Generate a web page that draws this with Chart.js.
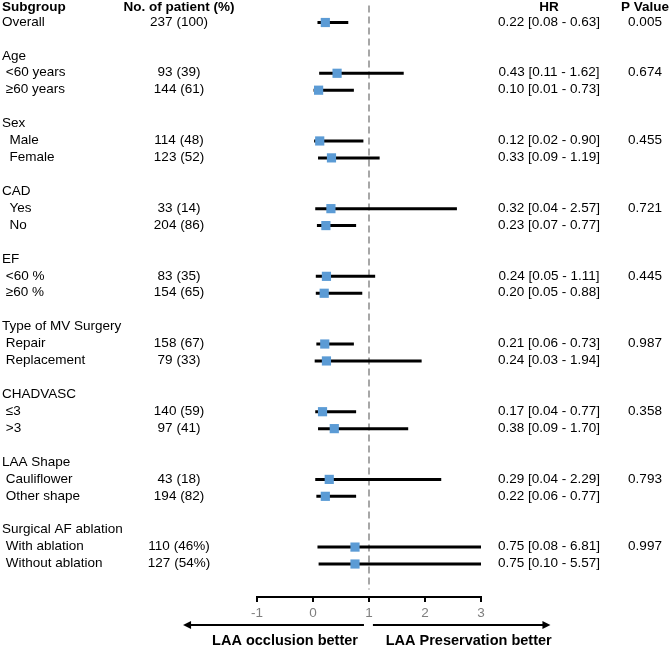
<!DOCTYPE html>
<html>
<head>
<meta charset="utf-8">
<script src="https://cdn.jsdelivr.net/npm/chart.js@4/dist/chart.umd.min.js"></script>
<style>
  html, body { margin: 0; padding: 0; background: #fff; }
  #wrap { width: 669px; height: 648px; position: relative; }
</style>
</head>
<body>
<div id="wrap"><canvas id="forest"></canvas></div>
<script>
// one entry per row, null for group headers / blank rows
const subgroups = ['Overall', '', 'Age', ' <60 years', ' ≥60 years', '', 'Sex', '  Male', '  Female', '',
    'CAD', '  Yes', '  No', '', 'EF', ' <60 %', ' ≥60 %', '', 'Type of MV Surgery', ' Repair', ' Replacement', '',
    'CHADVASC', ' ≤3', ' >3', '', 'LAA Shape', ' Cauliflower', ' Other shape', '',
    'Surgical AF ablation', ' With ablation', ' Without ablation'];
const patients = ['237 (100)', null, null, '93 (39)', '144 (61)', null, null, '114 (48)', '123 (52)', null,
    null, '33 (14)', '204 (86)', null, null, '83 (35)', '154 (65)', null, null, '158 (67)', '79 (33)', null,
    null, '140 (59)', '97 (41)', null, null, '43 (18)', '194 (82)', null,
    null, '110 (46%)', '127 (54%)'];
const hr = [0.22, null, null, 0.43, 0.10, null, null, 0.12, 0.33, null,
    null, 0.32, 0.23, null, null, 0.24, 0.20, null, null, 0.21, 0.24, null,
    null, 0.17, 0.38, null, null, 0.29, 0.22, null, null, 0.75, 0.75];
const ciLow = [0.08, null, null, 0.11, 0.01, null, null, 0.02, 0.09, null,
    null, 0.04, 0.07, null, null, 0.05, 0.05, null, null, 0.06, 0.03, null,
    null, 0.04, 0.09, null, null, 0.04, 0.06, null, null, 0.08, 0.10];
const ciHigh = [0.63, null, null, 1.62, 0.73, null, null, 0.90, 1.19, null,
    null, 2.57, 0.77, null, null, 1.11, 0.88, null, null, 0.73, 1.94, null,
    null, 0.77, 1.70, null, null, 2.29, 0.77, null, null, 6.81, 5.57];
const pValues = ['0.005', null, null, '0.674', null, null, null, '0.455', null, null,
    null, '0.721', null, null, null, '0.445', null, null, null, '0.987', null, null,
    null, '0.358', null, null, null, '0.793', null, null, null, '0.997', null];
const headers = ['Subgroup', 'No. of patient (%)', 'HR', 'P Value'];
const xTicks = [-1, 0, 1, 2, 3];
const arrowLabels = ['LAA occlusion better', 'LAA Preservation better'];

const FONT = '"Liberation Sans", Arial, sans-serif';

// build datasets
const squares = [];
const ciLines = [];
hr.forEach((v, i) => {
    if (v === null) return;
    squares.push({ x: v, y: i });
    ciLines.push({ x: ciLow[i], y: i }, { x: ciHigh[i], y: i }, { x: null, y: null });
});

const tablePlugin = {
    id: 'tableText',
    afterDraw(chart) {
        const ctx = chart.ctx;
        const x = chart.scales.x;
        const y = chart.scales.y;
        ctx.save();
        ctx.fillStyle = '#000';
        ctx.textBaseline = 'middle';

        // header row
        const hy = y.getPixelForValue(-1) + 1.5;
        ctx.font = 'bold 13.5px ' + FONT;
        ctx.textAlign = 'left';
        ctx.fillText(headers[0], 2, hy);
        ctx.textAlign = 'center';
        ctx.fillText(headers[1], 179, hy);
        ctx.fillText(headers[2], 549, hy);
        ctx.fillText(headers[3], 645, hy);

        ctx.font = '13.5px ' + FONT;
        subgroups.forEach((label, i) => {
            const py = y.getPixelForValue(i) - 0.5;
            ctx.textAlign = 'left';
            if (label) ctx.fillText(label, 2, py);
            ctx.textAlign = 'center';
            if (patients[i]) ctx.fillText(patients[i], 179, py);
            if (hr[i] !== null) {
                const txt = hr[i].toFixed(2) + ' [' + ciLow[i].toFixed(2) + ' - ' + ciHigh[i].toFixed(2) + ']';
                ctx.fillText(txt, 549, py);
            }
            if (pValues[i]) ctx.fillText(pValues[i], 645, py);
        });

        // direction arrows under the axis
        const ay = 625;
        const arrows = [[0.91, -2.32], [1.07, 4.24]];
        ctx.strokeStyle = '#000';
        ctx.lineWidth = 2;
        arrows.forEach(([from, to]) => {
            const x0 = x.getPixelForValue(from);
            const x1 = x.getPixelForValue(to);
            const dir = Math.sign(x1 - x0);
            ctx.beginPath();
            ctx.moveTo(x0, ay);
            ctx.lineTo(x1 - dir * 6, ay);
            ctx.stroke();
            ctx.beginPath();
            ctx.moveTo(x1, ay);
            ctx.lineTo(x1 - dir * 8, ay - 4);
            ctx.lineTo(x1 - dir * 8, ay + 4);
            ctx.closePath();
            ctx.fillStyle = '#000';
            ctx.fill();
        });
        ctx.font = 'bold 14.5px ' + FONT;
        ctx.textAlign = 'center';
        ctx.fillText(arrowLabels[0], x.getPixelForValue(-0.5), 641);
        ctx.fillText(arrowLabels[1], x.getPixelForValue(2.78), 641);
        ctx.restore();
    }
};

new Chart(document.getElementById('forest'), {
    type: 'scatter',
    data: {
        datasets: [
            {
                data: squares,
                pointStyle: 'rect',
                pointRadius: 6.5,
                backgroundColor: '#5B9BD5',
                borderColor: '#5B9BD5',
                borderWidth: 0
            },
            {
                type: 'line',
                data: ciLines,
                borderColor: '#000',
                borderWidth: 3,
                pointRadius: 0,
                spanGaps: false
            },
            {
                type: 'line',
                data: [{ x: 1, y: -1.0 }, { x: 1, y: 33.5 }],
                borderColor: '#8a8a8a',
                borderWidth: 1.5,
                borderDash: [7, 4],
                pointRadius: 0
            }
        ]
    },
    options: {
        responsive: true,
        maintainAspectRatio: false,
        animation: false,
        events: [],
        layout: { autoPadding: false, padding: { left: 257, right: 188, top: 0, bottom: 0 } },
        plugins: { legend: { display: false }, tooltip: { enabled: false } },
        scales: {
            x: {
                type: 'linear',
                min: xTicks[0],
                max: xTicks[xTicks.length - 1],
                afterBuildTicks: s => { s.ticks = xTicks.map(v => ({ value: v })); },
                afterFit: s => { s.height = 51; },
                border: { display: true, color: '#000', width: 2 },
                grid: { drawOnChartArea: false, drawTicks: true, tickLength: 5, color: '#000', lineWidth: 2 },
                ticks: { color: '#7f7f7f', padding: 3, font: { size: 13.5, family: FONT } }
            },
            y: {
                type: 'linear',
                reverse: true,
                min: -1.33,
                max: 33.95,
                display: false
            }
        }
    },
    plugins: [tablePlugin]
});
</script>
</body>
</html>
